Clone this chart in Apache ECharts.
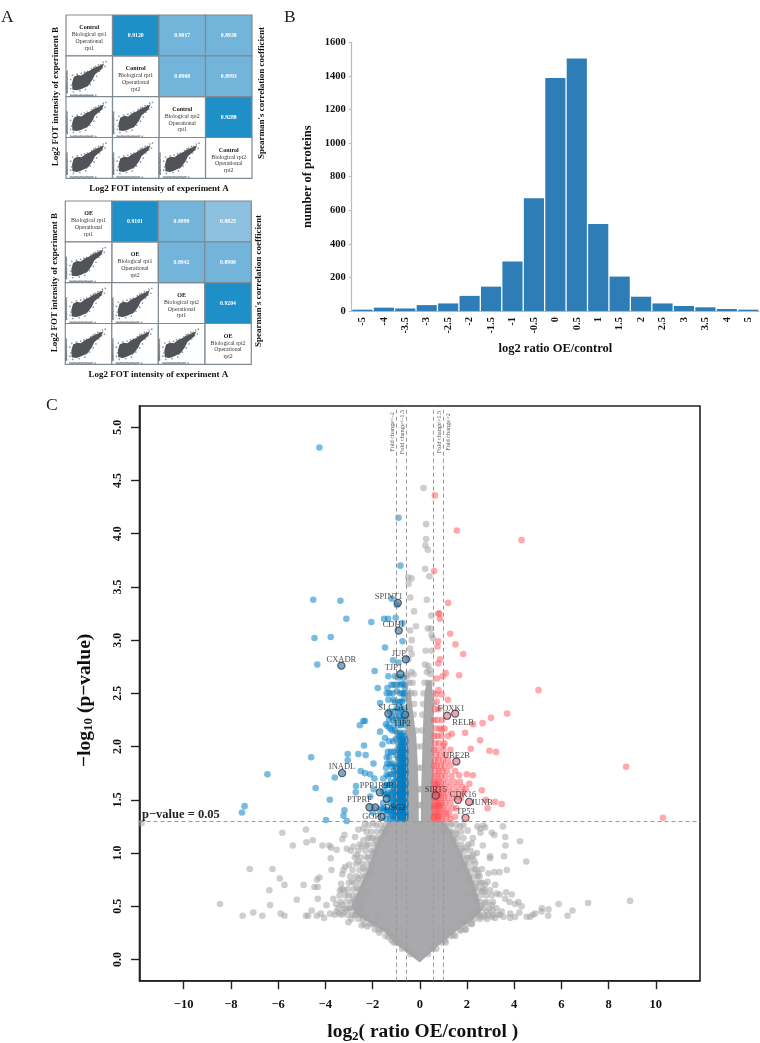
<!DOCTYPE html>
<html><head><meta charset="utf-8">
<style>html,body{margin:0;padding:0;background:#fff}#c{width:760px;height:1043px}</style>
<script src="https://cdn.jsdelivr.net/npm/echarts@6/dist/echarts.min.js"></script>
</head><body><div id="c"></div>
<script>
// ---------- Panel A data ----------
const matrixControlTitle = 'Control';
const matrixOETitle = 'OE';
const diagLines = [
  ['Biological rpt1','Operational','rpt1'],
  ['Biological rpt1','Operational','rpt2'],
  ['Biological rpt2','Operational','rpt1'],
  ['Biological rpt2','Operational','rpt2']
];
// [column, row, coefficient]
const controlCorr = [[1,0,0.9120],[2,0,0.9017],[3,0,0.8938],[2,1,0.8968],[3,1,0.8993],[3,2,0.9288]];
const oeCorr = [[1,0,0.9101],[2,0,0.8999],[3,0,0.8825],[2,1,0.8942],[3,1,0.8900],[3,2,0.9204]];
const lowerCells = [[0,1],[0,2],[1,2],[0,3],[1,3],[2,3]];
// mini scatter: dense body outline and loose points, in cell-local units
const miniBody = [[.167,.484],[.25,.53],[.333,.516],[.42,.59],[.514,.639],[.6,.7],[.696,.746],[.819,.811],[.768,.68],[.623,.541],[.572,.418],[.478,.27],[.333,.189],[.239,.156],[.138,.172],[.13,.336]];
const miniLoose = [[.86,.86],[.8,.84],[.75,.78],[.7,.78],[.64,.74],[.6,.72],[.55,.68],[.46,.62],[.4,.6],[.33,.57],[.24,.55],[.14,.52],[.1,.42],[.12,.28],[.1,.2],[.16,.12],[.3,.14],[.42,.18],[.52,.3],[.6,.4],[.66,.5],[.72,.62],[.78,.7],[.84,.74],[.5,.46],[.44,.25],
 [.025,.62],[.02,.58],[.025,.55],[.02,.51],[.02,.48],[.025,.45],[.025,.42],[.02,.39],[.02,.36],[.025,.33],[.025,.3],[.02,.27],[.02,.25],[.025,.22],[.025,.2],[.02,.17],[.02,.15],[.025,.12],[.025,.1],
 [.1,.035],[.13,.03],[.16,.03],[.19,.035],[.22,.035],[.25,.03],[.28,.03],[.31,.035],[.34,.035],[.37,.03],[.4,.03],[.43,.035],[.46,.035],[.49,.03],[.52,.03],[.55,.035],[.58,.035],[.64,.03]];

// ---------- Panel B data ----------
const histCategories = ['-5','-4','-3.5','-3','-2.5','-2','-1.5','-1','-0.5','0','0.5','1','1.5','2','2.5','3','3.5','4','5'];
const histCounts = [8,20,15,35,45,90,145,295,672,1388,1503,518,205,85,45,30,22,12,8];

// ---------- Panel C data ----------
const foldThresholds = [-1,-0.585,0.585,1];
const pThreshold = 1.3;
const volcanoXTicks = [-10,-8,-6,-4,-2,0,2,4,6,8,10];
const volcanoYTicks = [0,0.5,1,1.5,2,2.5,3,3.5,4,4.5,5];
// outlines of the areas where gray points merge into a solid mass
const grayCoreOutline = [[0,-.03],[.59,.09],[1.07,.18],[1.64,.28],[2.2,.36],[2.6,.45],[2.45,.6],[2.15,.8],[1.75,1.0],[1.35,1.2],[1.0,1.3],[-.6,1.3],[-1.35,1.3],[-1.6,1.2],[-1.9,1.05],[-2.2,.85],[-2.6,.65],[-2.9,.5],[-2.7,.42],[-2.1,.34],[-1.5,.26],[-1.0,.14]];
const grayLeftColumn = [[-.6,1.25],[-.6,2.3],[-.55,2.5],[-.4,2.55],[-.3,2.35],[-.15,2.1],[-.1,1.9],[-.05,1.6],[-.04,1.25]];
const grayRightColumn = [[.05,1.25],[.05,1.5],[.1,1.9],[.14,2.2],[.2,2.5],[.3,2.62],[.5,2.62],[.58,2.4],[.6,1.25]];
const grayRows = [
 [.42,[-3.6,-3.3,-3.05,-2.85,-2.7,-2.5,2.5,2.7,2.9,3.1,3.4]],[.48,[-3.45,-3.2,-3.0,-2.8,-2.55,2.55,2.7,2.95,3.25]],[.54,[-3.35,-3.1,-2.9,-2.75,-2.5,2.45,2.6,2.85,3.1]],[.6,[-3.4,-3.15,-2.85,-2.65,2.35,2.55,2.8,3.05]],[.66,[-3.3,-3.05,-2.8,-2.55,-2.4,2.3,2.5,2.7]],[.72,[-3.0,-2.75,-2.5,-2.3,2.2,2.4,2.65]],[.78,[-2.95,-2.7,-2.45,-2.2,2.1,2.3,2.45]],[.84,[-2.85,-2.55,-2.3,-2.12,2.0,2.2,2.42]],[.9,[-2.7,-2.45,-2.2,-2.05,1.9,2.1,2.35]],[.96,[-2.75,-2.5,-2.25,-2.0,1.8,2.0,2.2]],[1.02,[-2.6,-2.3,-2.05,-1.9,1.7,1.9,2.15]],[1.08,[-2.55,-2.2,-1.95,-1.8,1.55,1.75,2.05]],[1.14,[-2.2,-2.0,-1.8,-1.65,1.4,1.6,1.85]],[1.2,[-2.25,-2.05,-1.8,-1.6,-1.45,1.3,1.5,1.75]],[1.26,[-2.15,-1.85,-1.65,-1.45,-1.3,1.1,1.3,1.55,1.85]],
 [.38,[-2.9,-2.6,-2.4,2.3,2.55,2.85]],[.33,[-2.35,-2.1,-1.9,2.0,2.2]],[.28,[-1.9,-1.6,-1.4,1.75,1.95]],[.22,[-1.45,-1.15,1.3,1.5]],[.16,[-1.1,-.85,.95,1.1]],[.1,[-.75,-.5,.55,.7]],[.05,[-.4,-.2,.35]],
 [2.6,[-.56,-.42,-.3,.2,.34,.5]],[2.5,[-.58,-.36,-.22,.16,.56]],[2.4,[-.24,.14,.57]],[2.3,[-.26,.11]],[2.15,[-.14,.09]],[2.0,[-.1,.08]],[1.8,[-.07,.06]],[1.6,[-.04,.04]],[1.45,[-.03,.04]]
];
const grayPoints = [
 [.16,4.43],[.27,4.09],[.27,3.95],[.24,3.89],[.34,3.85],[.23,3.67],[.41,3.6],[-.49,3.59],[-.35,3.58],[-.47,3.53],[-.4,3.4],[.3,3.38],[-.24,3.27],[.49,3.23],[-.16,3.13],[-.41,3.09],[.34,3.11],[.48,3.11],
 [.5,3.05],[.55,3.02],[-.34,3.0],[-.41,2.92],[.25,2.9],[.5,2.9],[-.34,2.87],[-.48,2.82],[.22,2.77],[.36,2.76],[-.34,2.7],[-.55,2.68],[.3,2.7],[.42,2.72],[-.52,2.66],[-.26,2.68],[.46,2.68],
 [-11.78,1.28],[-8.46,.52],[-7.5,.41],[-7.05,.44],[-6.67,.41],[-7.2,.85],[-6.24,.85],[-5.93,.76],[-5.73,.7],[-6.37,.65],[-6.34,.51],[-5.89,.43],[-5.73,.41],[-5.82,1.19],[-4.82,1.22],[-4.8,1.1],[-4.53,1.12],[-5.38,1.07],[-4.92,.7],[-4.46,.68],[-4.32,.68],[-5.21,.56],[-4.32,.57],[-4.58,.46],[-4.82,.41],[-4.73,.41],[-4.36,.41],[-4.19,.43],[-4.12,1.07],[-3.83,1.07],[-3.76,1.05],[-3.52,1.03],[-3.77,.95],[-3.74,.84],[-4.25,.77],[-4.35,.75],[-3.28,1.13],[-3.19,1.17],[-3.09,1.04],[-2.92,1.02],[-2.81,1.06],[-3.23,.84],[-3.16,.87],[-2.99,.89],[-3.28,.8],[-3.33,.71],[-2.87,.73],[-3.38,.65],[-3.21,.65],[-3.66,.57],[-3.95,.51],[-4.05,.39],[-3.8,.43],[-3.52,.45],[-3.02,.35],[-2.46,.32],[-2.22,.31],[-1.75,.28],[-1.71,.25],[-1.33,.21],[-1.02,.16],
 [-2.67,.98],[-2.46,1.06],[-2.25,1.07],[-2.18,.96],[-2.6,.92],[-2.39,.86],[-2.32,.78],[-2.6,.76],[-2.67,.67],[-3.02,.6],[-2.81,.56],[-3.3,.51],[-2.95,.48],[-2.6,.45],[-2.25,.39],[-3.23,.44],[-2.6,1.22],[-2.39,1.23],[-1.96,1.28],[-2.32,1.28],[-2.74,1.15],[-2.1,1.14],[-2.39,1.12],[-3.55,.52],[-3.4,.43],[-3.1,.47],[-2.75,.42],[-2.45,.48],[-2.5,.6],[-2.25,.62],[-2.05,.82],[-2.0,1.0],[-1.85,1.12],[-1.55,1.22],[-1.8,.4],[-2.0,.34],[-1.2,.18],
 [2.44,1.25],[2.7,1.26],[2.56,1.23],[2.77,1.24],[3.52,1.25],[1.71,1.25],[2.03,1.21],[2.57,1.19],[3.05,1.19],[3.16,1.17],[3.62,1.15],[2.25,1.14],[2.2,1.09],[4.25,1.11],[3.63,1.07],[2.67,1.07],[1.78,1.04],[1.99,1.05],[2.42,1],[2.27,.98],[3.57,.97],[2.98,.97],[2.98,.95],[2.3,.93],[4.51,.92],[2.33,.85],[2.63,.85],[2.49,.81],[2.53,.78],[2.91,.81],[3.16,.82],[3.38,.82],[3.69,.84],[2.06,.76],[2.13,.73],[2.87,.73],[2.77,.7],[3.19,.7],[2.63,.64],[2.77,.64],[2.98,.65],[3.26,.62],[3.38,.61],[3.66,.63],[3.9,.61],[3.62,.57],[3.8,.54],[4.04,.52],[4.18,.54],[4.31,.5],[5.88,.52],[7.13,.53],[8.91,.55],[6.47,.46],[6.26,.41],[5.45,.47],[5.44,.41],[5.17,.48],[5.16,.45],[4.89,.43],[4.79,.42],[4.68,.4],[4.53,.4],[4.22,.44],[4.04,.4],[3.83,.39],[3.83,.43],[3.47,.45],[3.55,.4],[3.19,.39],[3.05,.4],[3.33,.42],[2.77,.53],[3.05,.51],[3.09,.46],[2.44,.46],[2.44,.43],[2.56,.4],[2.2,.34],[1.92,.28],[1.71,.27],[1.43,.23],[1.07,.18],
 [1.25,1.2],[1.45,1.12],[1.55,1.18],[1.35,1.28],[1.05,1.27],[1.0,1.2],[1.7,.98],[1.9,.9],[2.05,.95],[1.65,.85],[2.2,.62],[2.4,.55],[2.55,.72],[2.6,.5],[2.85,.45],[2.35,.68],[1.95,.62],[1.85,.35],[1.3,.26],[2.15,.42],[2.75,.4],
 [-.55,1.32]
];
const blueRows = [
 [1.32,[-.62,-.68,-.75,-.83,-.9,-1.0,-1.12,-1.25,-1.42]],[1.37,[-.6,-.66,-.72,-.8,-.88,-.97,-1.08,-1.2,-1.35]],[1.42,[-.63,-.7,-.78,-.86,-.95,-1.05,-1.18,-1.5,-1.62]],[1.47,[-.6,-.67,-.74,-.83,-.92,-1.02,-1.14,-1.28]],[1.52,[-.62,-.7,-.77,-.88,-.98,-1.1,-1.24]],[1.57,[-.6,-.66,-.73,-.81,-.92,-1.05,-1.18,-1.33]],[1.62,[-.63,-.7,-.79,-.87,-.97,-1.12]],[1.67,[-.6,-.68,-.75,-.84,-.94,-1.07,-1.22]],[1.72,[-.64,-.71,-.8,-.9,-1.0]],[1.77,[-.6,-.67,-.76,-.86,-.96,-1.1]],[1.82,[-.63,-.72,-.82,-.93,-1.05]],[1.87,[-.6,-.68,-.78,-.89]],[1.92,[-.65,-.74,-.85,-1.0]],[1.97,[-.61,-.7,-.82,-.95]],[2.02,[-.66,-.78,-.9]],[2.07,[-.62,-.75,-.87,-1.02]],[2.13,[-.69,-.83,-.95]],[2.2,[-.64,-.8,-.9,-1.1]],[2.28,[-.72,-.88,-1.02,-1.2]],[2.36,[-.66,-.82,-.97]],
 [1.345,[-.6,-.64,-.7,-.77,-.85,-.92,-1.03,-1.15]],[1.395,[-.61,-.68,-.75,-.83,-.9,-1.0,-1.12]],[1.445,[-.6,-.65,-.72,-.8,-.89,-.98,-1.1]],[1.495,[-.63,-.69,-.76,-.85,-.95,-1.07]],[1.545,[-.6,-.67,-.74,-.83,-.9,-1.0]],[1.595,[-.62,-.69,-.77,-.85,-.95,-1.1]],[1.645,[-.6,-.66,-.73,-.82,-.92,-1.02]],[1.695,[-.62,-.69,-.78,-.87,-.98]],[1.745,[-.6,-.66,-.74,-.83,-.93]],[1.795,[-.62,-.7,-.79,-.89,-1.0]],[1.845,[-.6,-.66,-.75,-.85]],[1.895,[-.62,-.71,-.81,-.92]],[1.945,[-.6,-.67,-.77,-.88]],[1.995,[-.63,-.73,-.85]],[2.045,[-.6,-.7,-.82]],[2.1,[-.65,-.78,-.9]],
 [1.4,[-1.25,-1.38,-1.45]],[1.55,[-1.2,-1.38,-1.47]],[1.64,[-1.3,-1.42]],[1.74,[-1.12,-1.24,-1.4]],[1.84,[-1.15,-1.28,-1.38]],[1.95,[-1.1,-1.22,-1.35]],[2.05,[-1.12,-1.3]],[2.15,[-1.05,-1.17]],[2.25,[-.62,-.78,-.95,-1.13,-1.3]],[2.33,[-.75,-.9,-1.05,-1.25]],[2.42,[-.74,-.92,-1.05]],[2.5,[-.65,-.83,-1.15,-1.28]],[2.58,[-.66,-.85,-.98,-1.2]],[2.65,[-.7,-.92]]
];
const bluePoints = [
 [-4.25,4.81],[-.9,4.15],[-.82,3.7],[-4.51,3.38],[-3.36,3.37],[-1.19,3.39],[-.97,3.33],[-3.11,3.2],[-2.05,3.17],[-1.51,3.2],[-1.34,3.2],[-1.02,3.21],[-.73,3.16],
 [-4.46,3.02],[-3.77,3.03],[-4.34,2.77],[-1.47,2.93],[-.73,2.99],[-1.91,2.71],[-1.78,2.55],[-1.13,2.81],[-.9,2.79],[-1.33,2.66],[-1.05,2.66],[-1.09,2.58],[-.76,2.59],[-1.37,2.55],[-1.4,2.5],[-.97,2.52],[-.73,2.5],[-.62,2.55],[-1.68,2.41],[-1.12,2.44],[-.83,2.42],[-.66,2.45],[-1.33,2.44],
 [-2.39,2.24],[-2.32,2.24],[-2.54,2.2],[-1.43,2.21],[-1.36,2.19],[-1.26,2.17],[-1.68,2.14],[-1.47,2.08],[-2.36,2.01],[-1.58,2.02],[-3.05,1.93],[-2.6,1.93],[-2.29,1.92],[-3.05,1.87],[-4.6,1.9],[-1.4,1.9],[-1.29,1.9],[-1.96,1.84],[-1.43,1.8],[-1.19,1.81],[-3.6,1.71],[-6.45,1.74],[-2.5,1.77],[-2.32,1.75],[-2.1,1.74],[-1.92,1.7],[-1.54,1.7],[-1.33,1.72],[-4.41,1.61],[-2.7,1.63],[-2.71,1.57],[-3.81,1.5],[-2.1,1.53],[-3.19,1.4],[-3.23,1.35],[-3.97,1.31],[-3.09,1.3],[-7.42,1.44],[-7.53,1.38],[-1.55,1.47],[-1.7,1.4],[-2.0,1.38],[-1.95,1.6],[-1.55,1.58],[-1.45,1.63]
];
const redRows = [
 [1.32,[.6,.66,.74,.83,.95,1.12,1.3]],[1.37,[.62,.7,.78,.88,1.02,1.25]],[1.42,[.6,.67,.75,.85,.97,1.15,1.4]],[1.47,[.63,.72,.82,.93,1.08,1.3]],[1.52,[.6,.68,.78,.9,1.02,1.2,1.45,1.75]],[1.57,[.62,.72,.84,.98,1.12,1.35,1.6,1.85]],[1.62,[.65,.75,.88,1.05,1.28,1.55,1.8]],[1.67,[.6,.7,.83,.97,1.2,1.45,1.7]],[1.72,[.63,.76,.9,1.08,1.35]],[1.77,[.66,.8,.95,1.15,1.5]],[1.82,[.6,.72,.88,1.05,1.3]],[1.87,[.64,.78,.98,1.2]],[1.92,[.68,.85,1.1]],[1.97,[.6,.75,1.0,1.3]],[2.03,[.65,.82,1.05]],[2.1,[.62,.75,.92,1.2]],[2.17,[.68,.85,1.05]],[2.25,[.6,.75,.95]],[2.35,[.65,.8]],[2.42,[.72]],
 [1.345,[.6,.65,.72,.8]],[1.445,[.62,.69,.78,.88]],[1.545,[.62,.7,.8]],[1.645,[.63,.72]]
];
const redPoints = [
 [.64,4.36],[1.57,4.03],[4.31,3.94],[.61,3.65],[1.2,3.35],[.78,3.25],[.83,3.25],[.85,3.2],
 [1.29,3.06],[1.51,2.96],[.78,2.99],[.75,2.94],[1.84,2.87],[.86,2.82],[.78,2.78],[1.67,2.67],[1.1,2.69],[.97,2.66],[.72,2.64],[5.03,2.53],[.79,2.53],[.93,2.49],[1.19,2.44],[.68,2.49],[3.7,2.31],[3.02,2.27],[2.66,2.22],[2.26,2.21],[1.92,2.13],[2.56,2.06],[1.36,2.12],[.93,2.16],[2.16,1.98],[2.95,1.96],[3.23,1.95],[1.0,2.01],[1.99,1.74],[2.25,1.73],[1.67,1.73],[2.63,1.59],[2.8,1.5],[3.19,1.48],[3.47,1.46],[2.87,1.42],[1.55,1.42],[1.13,1.37],[10.3,1.33],[8.74,1.81],[1.95,1.6],[2.1,1.65],[1.5,1.34]
];
const geneNames = ['SPINT1','CDH1','JUP','TJP1','CXADR','SLC2A1','TJP2','INADL','PPP1R9B','PTPRF','DSG2','GOPC','FOXK1','RELB','UBE2B','SIRT5','CDK16','JUNB','TP53'];
const geneX = [-.93,-.89,-.59,-.82,-3.32,-1.33,-.62,-3.29,-1.69,-2.13,-1.4,-1.62,1.5,1.16,1.55,.68,1.62,2.09,1.94];
const geneY = [3.35,3.09,2.82,2.68,2.76,2.31,2.3,1.75,1.57,1.43,1.51,1.34,2.31,2.29,1.86,1.54,1.5,1.48,1.33];
const extraHitX = [-1.89]; const extraHitY = [1.43];
// label layout (pixels from the point)
const geneLabelOffsets = [[-9,-6],[-5,-6],[-7,-6],[-7,-6],[0,-6],[5,-6],[-3,9],[0,-6],[-3,-7],[-10,-7],[8,9],[-8,0],[-4,-5],[16,7],[0,-6],[0,-6],[5,-5],[13,1],[0,-6]];

// ---------- drawing ----------
const serif = '"Liberation Serif","Times New Roman",serif';
const chart = echarts.init(document.getElementById('c'), null, {renderer:'canvas'});
const rows = r => r.flatMap(([y,xs]) => xs.map(x => [x,y]));

function corrColor(v){ return v >= 0.905 ? '#1f8fc7' : (v >= 0.885 ? '#73b4da' : '#8dbfdf'); }

function matrixSeries(idx, title, corr){
  const cells = [];
  for (let i=0;i<4;i++) cells.push([i,i,null,i]);
  corr.forEach(c => cells.push([c[0],c[1],c[2],-1]));
  lowerCells.forEach(c => cells.push([c[0],c[1],null,-1]));
  return [{
    type:'custom', xAxisIndex:idx, yAxisIndex:idx, silent:true, z:2, data:cells, clip:false,
    encode:{x:0,y:1},
    renderItem(p, api){
      const col=api.value(0), row=api.value(1), d=cells[p.dataIndex];
      const a=api.coord([col,row]), b=api.coord([col+1,row+1]);
      const ch=[{type:'rect',shape:{x:a[0],y:a[1],width:b[0]-a[0],height:b[1]-a[1]},
        style:{fill:d[2]!=null?corrColor(d[2]):'#fff',stroke:'#7f8a93',lineWidth:1.2}}];
      const cx=(a[0]+b[0])/2, cy=(a[1]+b[1])/2;
      if(d[2]!=null) ch.push({type:'text',z2:5,style:{text:d[2].toFixed(4),x:cx,y:cy,fill:'#fff',font:'bold 5.8px '+serif,align:'center',verticalAlign:'middle'}});
      if(d[3]>=0){
        ch.push({type:'text',z2:5,style:{text:title,x:cx,y:cy-7.8,fill:'#111',font:'bold 6px '+serif,align:'center',verticalAlign:'middle'}});
        diagLines[d[3]].forEach((t,i)=>ch.push({type:'text',z2:5,style:{text:t,x:cx,y:cy-.8+i*6.8,fill:'#333',font:'5.8px '+serif,align:'center',verticalAlign:'middle'}}));
      }
      return {type:'group',children:ch};
    }
  },{
    type:'custom', xAxisIndex:idx, yAxisIndex:idx, silent:true, z:3, data:lowerCells, clip:false,
    encode:{x:0,y:1},
    renderItem(p, api){
      const col=api.value(0), row=api.value(1);
      return {type:'polygon',shape:{points:miniBody.map(([u,v])=>api.coord([col+u,row+1-v]))},style:{fill:'#505458'}};
    }
  },{
    type:'scatter', xAxisIndex:idx, yAxisIndex:idx, silent:true, z:3, symbolSize:1.7,
    itemStyle:{color:'rgba(85,89,94,.8)'},
    data: lowerCells.flatMap(([c,r])=>miniLoose.map(([u,v])=>[c+u,r+1-v]))
  }];
}

function matrixAxes(gi, xname, yname){
  return {
    x:{gridIndex:gi,type:'value',min:0,max:4,show:true,axisLine:{show:false},axisTick:{show:false},axisLabel:{show:false},splitLine:{show:false},
       name:xname,nameLocation:'middle',nameGap:6,nameTextStyle:{fontFamily:serif,fontWeight:'bold',fontSize:9,color:'#111'}},
    y:{gridIndex:gi,type:'value',min:0,max:4,inverse:true,show:true,axisLine:{show:false},axisTick:{show:false},axisLabel:{show:false},splitLine:{show:false},
       name:yname,nameLocation:'middle',nameGap:6,nameTextStyle:{fontFamily:serif,fontWeight:'bold',fontSize:9,color:'#111'}}
  };
}
const m1=matrixAxes(0,'Log2 FOT intensity of experiment A','Log2 FOT intensity of experiment B');
const m2=matrixAxes(1,'Log2 FOT intensity of experiment A','Log2 FOT intensity of experiment B');

const polySeries = pts => ({
  type:'custom', xAxisIndex:3, yAxisIndex:3, silent:true, z:2, data:[[0,0]], clip:true,
  renderItem(p, api){ return {type:'polygon',shape:{points:pts.map(q=>api.coord(q))},style:{fill:'#a9a9ab'}}; }
});
const dotBase = {type:'scatter',xAxisIndex:3,yAxisIndex:3,silent:true,symbolSize:6.6};
const GRAY='rgba(165,165,167,.68)', BLUE='rgba(0,125,195,.65)', RED='rgba(255,80,90,.62)';

const labelStyle = {fontFamily:serif,fontSize:8.5,color:'#1a1a1a'};

const option = {
  animation:false, backgroundColor:'#fff',
  grid:[
    {left:66,top:15,width:186,height:163.3,outerBoundsMode:'none'},
    {left:65.3,top:201,width:186,height:163.3,outerBoundsMode:'none'},
    {left:351.7,top:42.3,width:407.3,height:268.7,outerBoundsMode:'none'},
    {left:139.5,top:406,width:560.5,height:574.7,show:true,borderColor:'#222',borderWidth:1.6,backgroundColor:'transparent',outerBoundsMode:'none'}
  ],
  xAxis:[m1.x,m2.x,
    {gridIndex:2,type:'category',data:histCategories,
      axisLine:{lineStyle:{color:'#aebccb',width:1.2}},axisTick:{length:3,lineStyle:{color:'#aebccb'}},
      axisLabel:{interval:0,rotate:90,fontFamily:serif,fontWeight:'bold',fontSize:10.5,color:'#111',margin:6},
      name:'log2 ratio OE/control',nameLocation:'middle',nameGap:31,nameTextStyle:{fontFamily:serif,fontWeight:'bold',fontSize:12.5,color:'#111'}},
    {gridIndex:3,type:'value',min:-11.87,max:11.87,splitLine:{show:false},
      axisLine:{onZero:false,lineStyle:{color:'#222',width:1.6}},
      axisTick:{customValues:volcanoXTicks,length:8.5,lineStyle:{color:'#222',width:1.4}},
      axisLabel:{customValues:volcanoXTicks,margin:18,fontFamily:serif,fontWeight:'bold',fontSize:12.5,color:'#111',
        formatter:v=>String(v).replace('-','\u2212')},
      name:'{b|log}{s|2}{b|( ratio OE/control )}',nameLocation:'middle',nameGap:40,
      nameTextStyle:{padding:[0,0,0,6],rich:{b:{fontFamily:serif,fontWeight:'bold',fontSize:19.4,color:'#111'},s:{fontFamily:serif,fontWeight:'bold',fontSize:13,color:'#111',padding:[9,0,0,0]}}}}
  ],
  yAxis:[m1.y,m2.y,
    {gridIndex:2,type:'value',min:0,max:1600,interval:200,splitLine:{show:false},
      axisLine:{show:true,lineStyle:{color:'#aebccb',width:1.2}},axisTick:{show:true,length:3,lineStyle:{color:'#aebccb'}},
      axisLabel:{fontFamily:serif,fontWeight:'bold',fontSize:10.5,color:'#111',margin:6,formatter:v=>String(v)},
      name:'number of proteins',nameLocation:'middle',nameGap:33,nameTextStyle:{fontFamily:serif,fontWeight:'bold',fontSize:12.5,color:'#111'}},
    {gridIndex:3,type:'value',min:-0.2,max:5.2,splitLine:{show:false},
      axisLine:{onZero:false,show:true,lineStyle:{color:'#222',width:1.6}},
      axisTick:{show:true,customValues:volcanoYTicks,length:8.5,lineStyle:{color:'#222',width:1.4}},
      axisLabel:{customValues:volcanoYTicks,rotate:90,margin:15.5,fontFamily:serif,fontWeight:'bold',fontSize:12,color:'#111',
        formatter:v=>v.toFixed(1)},
      name:'{b|\u2212log}{s|10}{b| (p\u2212value)}',nameLocation:'middle',nameGap:44,
      nameTextStyle:{padding:[0,14,0,0],rich:{b:{fontFamily:serif,fontWeight:'bold',fontSize:19.5,color:'#111'},s:{fontFamily:serif,fontWeight:'bold',fontSize:13,color:'#111',padding:[9,0,0,0]}}}}
  ],
  series:[
    ...matrixSeries(0,matrixControlTitle,controlCorr),
    ...matrixSeries(1,matrixOETitle,oeCorr),
    {type:'bar',xAxisIndex:2,yAxisIndex:2,data:histCounts,barCategoryGap:'6%',itemStyle:{color:'#2e7db6'},silent:true},
    polySeries(grayCoreOutline),polySeries(grayLeftColumn),polySeries(grayRightColumn),
    {...dotBase,z:3,itemStyle:{color:GRAY},data:[...rows(grayRows),...grayPoints],
      markLine:{silent:true,symbol:'none',label:{show:false},animation:false,
        lineStyle:{color:'#999',type:[4,3],width:1},
        data:[...foldThresholds.map(x=>({xAxis:x})),{yAxis:pThreshold}]}},
    {...dotBase,z:4,itemStyle:{color:BLUE},data:[...rows(blueRows),...bluePoints]},
    {...dotBase,z:4,itemStyle:{color:RED},data:[...rows(redRows),...redPoints]},
    {...dotBase,z:5,symbolSize:7.2,itemStyle:{color:'rgba(40,90,130,.75)',borderColor:'#2a3a46',borderWidth:1},
      data:extraHitX.map((x,i)=>[x,extraHitY[i]])},
    {...dotBase,z:6,symbolSize:7.2,
      data:geneNames.map((n,i)=>({name:n,value:[geneX[i],geneY[i]],
        itemStyle:{color:geneX[i]<0?'rgba(40,110,160,.75)':'rgba(240,90,100,.7)',borderColor:'#2a3a46',borderWidth:1.1},
        label:{show:true,position:'inside',formatter:n,offset:geneLabelOffsets[i],...labelStyle}}))}
  ],
  graphic:[
    ...[['A',1,8],['B',284,8],['C',46,396]].map(([t,x,y])=>({type:'text',left:x,top:y,style:{text:t,font:'17.5px '+serif,fill:'#222'}})),
    {type:'text',x:262,y:93,rotation:Math.PI/2,style:{text:"Spearman's correlation coefficient",font:'bold 9px '+serif,fill:'#111',align:'center',verticalAlign:'middle'}},
    {type:'text',x:259,y:281,rotation:Math.PI/2,style:{text:"Spearman's correlation coefficient",font:'bold 9px '+serif,fill:'#111',align:'center',verticalAlign:'middle'}},
    {type:'text',x:142,y:814.5,z:50,style:{text:'p\u2212value = 0.05',font:'bold 12.5px '+serif,fill:'#222',verticalAlign:'middle'}},
    ...[['Fold change<-2',392],['Fold change<-1.5',402.5],['Fold change>1.5',439],['Fold change>2',448.5]].map(([t,x])=>({
      type:'text',x:x,y:432,rotation:Math.PI/2,z:50,style:{text:t,font:'6.3px '+serif,fill:'#555',align:'center',verticalAlign:'middle'}}))
  ]
};
chart.setOption(option);
</script></body></html>
